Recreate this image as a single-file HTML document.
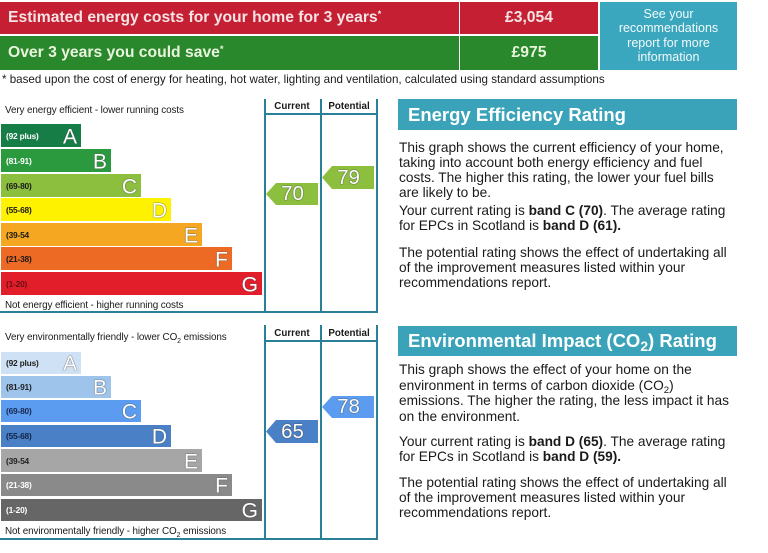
<!DOCTYPE html>
<html><head><meta charset="utf-8">
<style>
*{box-sizing:border-box}
body{margin:0;width:768px;height:553px;position:relative;background:#fff;font-family:"Liberation Sans",Arial,sans-serif;overflow:hidden;color:#1a1a1a}
.a{position:absolute}
.hdr{font-weight:bold;font-size:15.7px;white-space:nowrap}
.bar{position:absolute;left:1px;height:23px}
.lbl{position:absolute;left:5px;top:50%;transform:translateY(-50%);font-weight:bold;font-size:8.4px;white-space:nowrap;letter-spacing:-0.2px}
.let{position:absolute;right:4px;top:50%;transform:translateY(-46%);font-size:21px;color:#fff;line-height:1;text-shadow:0 0 1px #555,0 0 1px #555}
.ln{position:absolute;background:#2a8096}
.small{position:absolute;left:5px;font-size:9.9px;white-space:nowrap;line-height:1;letter-spacing:-0.1px}
.colh{position:absolute;font-weight:bold;font-size:9.8px;width:54px;text-align:center;line-height:1}
.arr{position:absolute;width:52px;clip-path:polygon(10px 0,100% 0,100% 100%,10px 100%,0 50%);color:#fff;font-size:20.5px;text-align:center;text-shadow:0 0 1px #444,0 0 1px #444;padding-left:1px}
.hd{position:absolute;left:398px;width:339px;height:31px;background:#3aa3b9;color:#fff;font-weight:bold;font-size:18.5px;padding-left:10px;line-height:31px;white-space:nowrap}
.p{position:absolute;left:399px;font-size:13.7px;line-height:15px;white-space:nowrap;color:#1a1a1a}
sub{font-size:70%;vertical-align:-3px;line-height:0}
sup{font-size:60%;vertical-align:5px;line-height:0}
</style></head><body>

<!-- Top banner -->
<div class="a hdr" style="left:0;top:2px;width:459px;height:32px;background:#c41f33;color:#f6e4e4;line-height:32px;padding-left:8px">Estimated energy costs for your home for 3 years<sup>*</sup></div>
<div class="a hdr" style="left:460px;top:2px;width:138px;height:32px;background:#c41f33;color:#f6e4e4;line-height:32px;text-align:center">£3,054</div>
<div class="a hdr" style="left:0;top:36px;width:459px;height:34px;background:#2a882c;color:#e8f4dc;line-height:34px;padding-left:8px">Over 3 years you could save<sup>*</sup></div>
<div class="a hdr" style="left:460px;top:36px;width:138px;height:34px;background:#2a882c;color:#e8f4dc;line-height:34px;text-align:center">£975</div>
<div class="a" style="left:600px;top:2px;width:137px;height:68px;background:#3ba7bf;color:#f2fafc;font-size:12.5px;line-height:14.3px;text-align:center;padding-top:5px">See your<br>recommendations<br>report for more<br>information</div>
<div class="a" style="left:2px;top:73px;font-size:11.6px;white-space:nowrap;line-height:14px">* based upon the cost of energy for heating, hot water, lighting and ventilation, calculated using standard assumptions</div>

<!-- Energy Efficiency chart -->
<div class="small" style="top:106px">Very energy efficient - lower running costs</div>
<div class="small" style="top:301px">Not energy efficient - higher running costs</div>
<div class="bar" style="top:124px;width:80px;background:#177d47"><span class="lbl" style="color:#fff">(92 plus)</span><span class="let">A</span></div>
<div class="bar" style="top:149px;width:110px;background:#2b9a3e"><span class="lbl" style="color:#fff">(81-91)</span><span class="let">B</span></div>
<div class="bar" style="top:174px;width:140px;background:#8dbf3f"><span class="lbl">(69-80)</span><span class="let">C</span></div>
<div class="bar" style="top:198px;width:170px;background:#fff200"><span class="lbl">(55-68)</span><span class="let">D</span></div>
<div class="bar" style="top:223px;width:201px;background:#f6a722"><span class="lbl">(39-54</span><span class="let">E</span></div>
<div class="bar" style="top:247px;width:231px;background:#ec6a24"><span class="lbl">(21-38)</span><span class="let">F</span></div>
<div class="bar" style="top:272px;width:261px;background:#e21e2b"><span class="lbl" style="color:#6a1010">(1-20)</span><span class="let">G</span></div>

<div class="ln" style="left:264px;top:99px;width:2px;height:214px"></div>
<div class="ln" style="left:320px;top:99px;width:2px;height:214px"></div>
<div class="ln" style="left:376px;top:99px;width:2px;height:214px"></div>
<div class="ln" style="left:264px;top:113px;width:114px;height:2px"></div>
<div class="ln" style="left:0;top:311px;width:378px;height:2px"></div>
<div class="colh" style="left:265px;top:102px">Current</div>
<div class="colh" style="left:322px;top:102px">Potential</div>
<div class="arr" style="left:266px;top:183px;height:22px;line-height:22px;background:#8dbf3f">70</div>
<div class="arr" style="left:322px;top:166px;height:23px;line-height:23px;background:#8dbf3f">79</div>

<!-- Environmental chart -->
<div class="small" style="top:333px">Very environmentally friendly - lower CO<sub>2</sub> emissions</div>
<div class="small" style="top:527px">Not environmentally friendly - higher CO<sub>2</sub> emissions</div>
<div class="bar" style="top:352px;height:22px;width:80px;background:#cfe1f4"><span class="lbl" style="color:#222">(92 plus)</span><span class="let">A</span></div>
<div class="bar" style="top:376px;height:22px;width:110px;background:#9ec4ec"><span class="lbl" style="color:#222">(81-91)</span><span class="let">B</span></div>
<div class="bar" style="top:400px;height:22px;width:140px;background:#5b9cf0"><span class="lbl" style="color:#1a2a50">(69-80)</span><span class="let">C</span></div>
<div class="bar" style="top:425px;height:22px;width:170px;background:#4a80c6"><span class="lbl" style="color:#14264a">(55-68)</span><span class="let">D</span></div>
<div class="bar" style="top:449px;height:23px;width:201px;background:#a6a6a6"><span class="lbl" style="color:#222">(39-54</span><span class="let">E</span></div>
<div class="bar" style="top:474px;height:22px;width:231px;background:#8a8a8a"><span class="lbl" style="color:#fff">(21-38)</span><span class="let">F</span></div>
<div class="bar" style="top:499px;height:22px;width:261px;background:#666"><span class="lbl" style="color:#fff">(1-20)</span><span class="let">G</span></div>

<div class="ln" style="left:264px;top:325px;width:2px;height:215px"></div>
<div class="ln" style="left:320px;top:325px;width:2px;height:215px"></div>
<div class="ln" style="left:376px;top:325px;width:2px;height:215px"></div>
<div class="ln" style="left:264px;top:340px;width:114px;height:2px"></div>
<div class="ln" style="left:0;top:538px;width:378px;height:2px"></div>
<div class="colh" style="left:265px;top:329px">Current</div>
<div class="colh" style="left:322px;top:329px">Potential</div>
<div class="arr" style="left:266px;top:420px;height:23px;line-height:23px;background:#4a80c6">65</div>
<div class="arr" style="left:322px;top:396px;height:22px;line-height:22px;background:#5b9cf0">78</div>

<!-- Right text: Energy Efficiency -->
<div class="hd" style="top:99px">Energy Efficiency Rating</div>
<div class="p" style="top:140px">This graph shows the current efficiency of your home,<br>taking into account both energy efficiency and fuel<br>costs. The higher this rating, the lower your fuel bills<br>are likely to be.</div>
<div class="p" style="top:203px">Your current rating is <b>band C (70)</b>. The average rating<br>for EPCs in Scotland is <b>band D (61).</b></div>
<div class="p" style="top:245px">The potential rating shows the effect of undertaking all<br>of the improvement measures listed within your<br>recommendations report.</div>

<!-- Right text: Environmental -->
<div class="hd" style="top:326px;height:30px;line-height:30px">Environmental Impact (CO<sub style="font-size:75%;vertical-align:-4px">2</sub>) Rating</div>
<div class="p" style="top:362px;line-height:15.6px">This graph shows the effect of your home on the<br>environment in terms of carbon dioxide (CO<sub>2</sub>)<br>emissions. The higher the rating, the less impact it has<br>on the environment.</div>
<div class="p" style="top:434px">Your current rating is <b>band D (65)</b>. The average rating<br>for EPCs in Scotland is <b>band D (59).</b></div>
<div class="p" style="top:475px">The potential rating shows the effect of undertaking all<br>of the improvement measures listed within your<br>recommendations report.</div>

</body></html>
